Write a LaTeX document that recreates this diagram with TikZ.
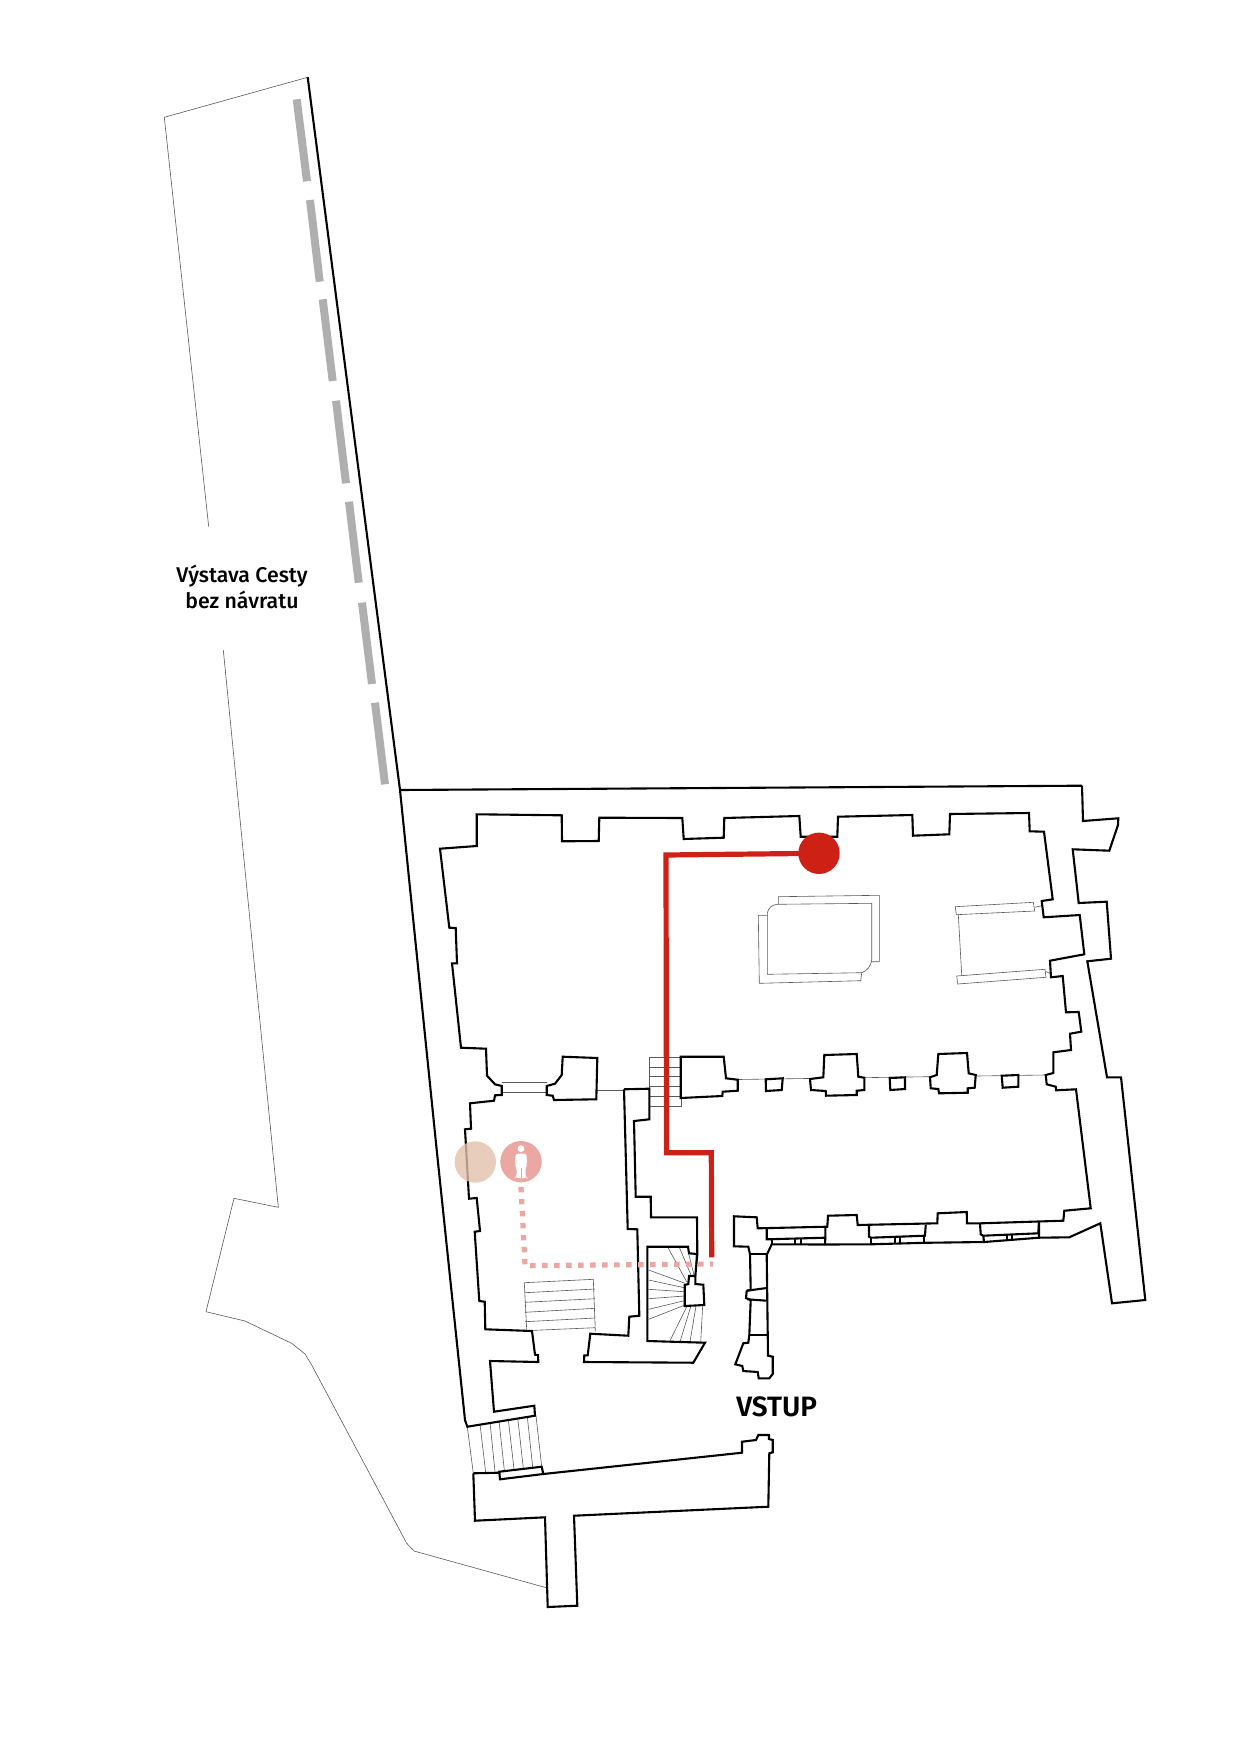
\documentclass[tikz,border=0pt]{standalone}
\usepackage{fontspec}
\setmainfont{Fira Sans}[BoldFont={Fira Sans Medium}]
\newfontfamily\entryfont{Fira Sans SemiBold}
\usepackage{xcolor}
\definecolor{routered}{HTML}{CE2116}
\definecolor{routepink}{HTML}{EBA8A3}
\definecolor{spottan}{HTML}{E2C0AB}
\definecolor{dashgray}{HTML}{AEAFAE}

\begin{document}
\begin{tikzpicture}[
  x=.5pt, y=-.5pt,
  line join=miter,
  wall/.style={draw=black, line width=1.05pt},
  thinline/.style={draw=black!65, line width=.3pt},
  pier/.style={wall, fill=white},
  spot/.style={circle, inner sep=0pt, minimum size=20.7pt},
  caption/.style={align=center, font=\fontsize{10.65}{13}\selectfont\bfseries}
]
\useasboundingbox (0,0) rectangle (1240,1754);

% --- Garden outline ---
\draw[thinline] (307.7,77.3) -- (164.3,117.3) -- (208.7,526.7);
\draw[thinline] (223.3,650) -- (278.3,1207.3) -- (234,1198.3) -- (206,1311.7) -- (245,1321)
  -- (291.7,1343.3) -- (305,1354) -- (311.7,1365) -- (406.7,1543.3) -- (414,1551) -- (547.3,1588);

% --- Gray dashes ---
\foreach \xa/\ya/\xb/\yb in {296.7/99.3/307/181.3, 310/200/319.7/281.7, 322.7/299.3/332.7/381,
    336/400.7/346/483.3, 349/501.7/358.7/582.7, 362/602.7/372/684, 375/702.7/385/784.3}
  \draw[dashgray, line width=4pt] (\xa,\ya) -- (\xb,\yb);

% --- Thin lines between piers ---
\draw[thinline] (596.3,1090.3) -- (624,1090.3);
\draw[thinline] (737.7,1079.5) -- (1045.7,1075);
\draw[thinline] (501.7,1082) -- (546.7,1082);
\draw[thinline] (502.3,1092) -- (546.7,1092);

% --- Stairs by the red line ---
\foreach \y in {1057.3,1067,1076.7,1086.7,1096.7,1106.7}
  \draw[thinline] (649.3,\y) -- (681.7,\y);
\draw[thinline] (649.3,1057.3) -- (649.3,1106.7) (681.7,1096) -- (681.7,1106.7);

% --- Left room stairs ---
\draw[thinline] (524.3,1282.7) -- (593.3,1279.3) -- (595.3,1331) (524.3,1282.7) -- (526.7,1330);
\foreach \ya/\yb in {1292.7/1289, 1302.3/1298.7, 1312.3/1308.3, 1321.7/1318, 1330.7/1327.7}
  \draw[thinline] (525,\ya) -- (595,\yb);

% --- Spiral stairs ---
\foreach \xa/\ya/\xb/\yb in {668.3/1248.3/686.7/1281.7, 679.3/1247.3/691.7/1276.7,
    688.7/1254/694/1275, 696/1255/695.3/1275, 648.7/1270/685/1283.3, 648.7/1280/684.3/1287.7,
    648.7/1289.3/684.3/1291.7, 648.7/1298.7/684.3/1296, 648.7/1309.3/684.3/1300.7,
    648.7/1319.3/685/1305, 670/1340.7/686.7/1306.7, 680/1341.7/690.7/1306.7,
    690/1341.7/696/1306, 700.7/1342.3/702.7/1305}
  \draw[thinline] (\xa,\ya) -- (\xb,\yb);

% --- Terrace steps ---
\foreach \xa/\ya/\xb/\yb in {467.3/1426.7/473.3/1473.3, 480/1424/485.7/1472.7, 490/1422.3/495/1471.7,
    499/1420.7/504.3/1470, 508.3/1419.3/514/1469, 517.7/1418/523.3/1468, 527.3/1416.7/532.7/1467.3,
    536/1415.7/541.7/1466.7}
  \draw[thinline] (\xa,\ya) -- (\xb,\yb);

% --- Altar and bench ---
\draw[thinline] (778.3,904) -- (778.3,896.7) -- (879.3,895.3) -- (879.3,961.7) -- (871,961.7);
\draw[thinline] (767.3,913.3) .. controls (768,908) and (772,905) .. (776.7,904.3) -- (871.7,903.3)
  -- (871.7,960) .. controls (871,966) and (867,971) .. (861.7,972.7) -- (767.3,974.3) -- cycle;
\draw[thinline] (767.3,915.3) -- (758.3,915.3) -- (759.3,983.3) -- (860.7,980.7) -- (861.7,972.7);
\draw[thinline] (955.3,906.7) -- (1033.3,902.3) -- (1034.7,911) -- (956.3,914.7) -- cycle;
\draw[thinline] (956.7,976) -- (1045,969.3) -- (1046,977.3) -- (957.7,984) -- cycle;
\draw[thinline] (958.3,914.7) -- (961.7,975);
\draw[thinline] (1034.7,907.3) -- (1041.7,905.7);
\draw[thinline] (1046,971.7) -- (1050,973.3);

% --- Outer wall and hall ---
\draw[wall] (1082,785.7) -- (400,790);
\draw[wall] (307.7,77.3) -- (400,790) -- (436.7,1150) -- (465,1420) -- (467.3,1426.7) -- (535,1415.7)
  -- (534.3,1405.7) -- (494,1411.7) -- (490,1361) -- (538.3,1362) -- (538,1355) -- (535,1354.7)
  -- (532,1331) -- (485.3,1329.3) -- (484.7,1301.7) -- (479.3,1301) -- (474.7,1231.7) -- (480,1231)
  -- (476.7,1198) -- (469,1198.7) -- (465,1129.3) -- (471,1128.7) -- (470,1103.3) -- (494,1100.7)
  -- (495,1095.3) -- (501.7,1095) -- (501.7,1086) -- (495,1084.3) -- (487,1075.7) -- (486,1048.7)
  -- (461,1047.7) -- (452,963.3) -- (457,963.3) -- (455.7,928) -- (449.3,927.7) -- (440,848.7)
  -- (476.7,846) -- (476.7,814.3) -- (561.7,815.3) -- (562,841.3) -- (598.7,841) -- (599.3,817.7)
  -- (682.3,818) -- (683.7,839) -- (723.7,837.7) -- (724.3,818) -- (799.3,816) -- (800.7,836.7)
  -- (837.3,836.7) -- (838,816.7) -- (912.3,815) -- (913,835.7) -- (949.3,834.3) -- (950,814)
  -- (1029,813) -- (1029.7,831.3) -- (1044,831.7) -- (1052.7,899.3) -- (1041.7,901) -- (1043.7,917.3)
  -- (1079.7,915) -- (1084.3,954.3) -- (1050,960.7) -- (1051,977.3) -- (1062.7,976) -- (1066,1012.3)
  -- (1078.7,1012) -- (1081.3,1031.7) -- (1070,1033.7) -- (1071,1050) -- (1053.3,1052.3) -- (1053.3,1073)
  -- (1045.7,1075) -- (1046.7,1084.3) -- (1055.7,1086.7) -- (1056,1090.3) -- (1076,1089.3)
  -- (1090.7,1208.3) -- (1064.3,1210.7) -- (1063.3,1220.7) -- (981,1223.3) -- (967,1223.3)
  -- (966.7,1212) -- (937.7,1213.3) -- (937.3,1223.3) -- (857.7,1225) -- (856.7,1215) -- (828,1215.7)
  -- (827.3,1226.7) -- (757.7,1228.3) -- (756.7,1217.3) -- (734,1216.3) -- (734,1246.3) -- (748.3,1246.7)
  -- (750,1254.3) -- (750.7,1290) (750.7,1300) -- (749.3,1335) -- (748.3,1342.7) -- (743.3,1343.3)
  -- (735.3,1364.3) -- (742.3,1366) -- (743.3,1371) -- (757.7,1372) -- (758.7,1378.3) -- (769.3,1378.3)
  -- (772.7,1374) -- (772.7,1356.7) -- (768,1355.7) -- (766.7,1255) -- (771.7,1244.3) -- (825,1244.5)
  -- (871,1244.3) -- (924,1242.8) -- (984,1242) -- (1039,1237.7) -- (1069.3,1237.3) -- (1100.3,1223.3)
  -- (1112,1303.3) -- (1145.3,1300) -- (1121,1077.3) -- (1107,1077.3) -- (1087.3,961.3) -- (1111,958.7)
  -- (1106.7,901.7) -- (1078.7,903) -- (1072.7,849.3) -- (1109.3,850.7) -- (1118,825) -- (1118.3,818.3)
  -- (1083,821) -- (1082,785.7);

% --- South wall bays ---
\draw[wall] (766.7,1228.3) -- (766.7,1239.3) -- (825.3,1237.7) -- (825.3,1227);
\draw[wall] (771.7,1239.5) -- (771.7,1244.3);
\draw[wall] (825.3,1237.7) -- (825,1244.5);
\foreach \x in {795,801}
  \draw[wall, line width=.7pt] (\x,1239) -- (\x,1244);
\draw[wall] (869,1225) -- (869,1236.7) -- (871,1237.7) -- (925,1235.7) -- (925.7,1225);
\draw[wall] (871,1237.7) -- (871,1244.3) (924,1235.7) -- (924,1242.8);
\foreach \x in {895,900}
  \draw[wall, line width=.7pt] (\x,1237) -- (\x,1243);
\draw[wall] (980,1223.3) -- (980.7,1234.3) -- (983.3,1235.7) -- (1038.3,1233.3) -- (1039,1222);
\draw[wall] (983.3,1235.7) -- (984,1242) (1039,1222) -- (1039,1237.7);
\foreach \x in {1007,1012}
  \draw[wall, line width=.7pt] (\x,1234.7) -- (\x,1240);

% --- Entrance passage ---
\draw[wall] (750,1254.3) -- (766.7,1254.3);
\draw[wall] (746.7,1290.7) -- (766.7,1288) (747.3,1299.3) -- (766.7,1300.7);
\draw[wall] (746.7,1290.7) -- (746,1298) -- (750.7,1300) (746.7,1290.7) -- (750.7,1290);
\draw[wall] (749.3,1335) -- (767.3,1335);

% --- Piers ---
\draw[pier] (546.7,1086) -- (555,1083.7) -- (561.7,1075) -- (562.7,1056.7) -- (597.3,1058) -- (596.3,1099.3)
  -- (554,1100) -- (552.7,1095.7) -- (546.7,1095) -- cycle;
\draw[pier] (680.7,1056.7) -- (723.7,1056.7) -- (726,1078.3) -- (737.7,1079.7) -- (737.7,1090.7)
  -- (722.7,1091.7) -- (722.3,1096) -- (680.7,1098) -- cycle;
\draw[pier] (824.3,1055) -- (856.7,1054) -- (858.3,1076.7) -- (864.3,1077.7) -- (864.3,1090) -- (856.7,1090.7)
  -- (856.7,1095) -- (826,1095.7) -- (825.7,1091) -- (811,1090) -- (810,1079) -- (823.3,1077.3) -- cycle;
\draw[pier] (938.3,1054) -- (967,1053) -- (968.7,1073.3) -- (975.7,1075) -- (974.7,1087.7) -- (967.7,1088.3)
  -- (967.7,1092.7) -- (939,1093.3) -- (938.3,1089) -- (930.7,1088.3) -- (930,1077.3) -- (936.7,1075) -- cycle;
\draw[pier] (765.7,1079.3) -- (782.7,1078.3) -- (781.7,1090) -- (766,1091) -- cycle;
\draw[pier] (889.7,1078) -- (905,1077.3) -- (905,1089) -- (890.3,1090) -- cycle;
\draw[pier] (1001.7,1075.7) -- (1018.3,1075) -- (1018.3,1086.7) -- (1002.7,1087.7) -- cycle;

% --- Corridor and spiral stair block ---
\draw[wall] (624,1089.3) -- (649.3,1088.7) -- (649.3,1119.3) -- (634,1121) -- (635.7,1196.7) -- (650.7,1196.7)
  -- (651,1217.3) -- (697,1217.3) -- (697.3,1254) -- (695.3,1276);
\draw[wall] (624,1089.3) -- (627.7,1229) -- (637.3,1229.3) -- (639.3,1315.7) -- (629.3,1316.7)
  -- (628.3,1335.7) -- (590.3,1333.7) -- (587.7,1355.3) -- (584.3,1355.3) -- (584,1362) -- (693.3,1362.7)
  -- (705,1342.7) -- (647.3,1341) -- (647.3,1246.7) -- (688,1246.7) -- (689,1253.3) -- (697.3,1254);
\draw[pier] (695.3,1276) -- (689,1276) -- (688.3,1284) -- (684.7,1285) -- (684.7,1306) -- (704.3,1305)
  -- (703.3,1284.7) -- (695.3,1284) -- cycle;

% --- South block ---
\draw[wall] (473.3,1473.3) -- (475,1520.7) -- (545,1517.3) -- (547.7,1607) -- (577.3,1605.7) -- (574,1515.7)
  -- (768.3,1506.7) -- (769.3,1453.3) -- (772.7,1452.3) -- (772.7,1440) -- (769,1439) -- (769,1435)
  -- (758.3,1435) -- (756,1440) -- (742,1441.7) -- (742,1452.7) -- (543.3,1474) -- (541.7,1466.7)
  -- (499.3,1471.7) -- (500,1479.3) -- (543.3,1474);
\draw[wall] (473.3,1473.3) -- (499.3,1472.7);

% --- Route ---
\node[spot, fill=routered] (FINISH) at (819,853.3) {};
\coordinate (ROUTEIN) at (711.7,1257.3);
\draw[routered, line width=2.6pt] (FINISH.center) -- (666,855) -- (666.5,1152.7) -- (711.3,1152.7) -- (ROUTEIN);

% --- Spots ---
\node[spot, fill=spottan, fill opacity=.8] (SPOTA) at (475.3,1162) {};
\node[spot, fill=routepink] (SPOTB) at (521,1161.7) {};
\fill[white] (521,1148.7) circle (3.4);
\fill[white, rounded corners=1.5pt] (515,1165) -- (515.5,1153.5) -- (526.5,1153.5) -- (527,1165) -- (525.5,1167)
  -- (525.5,1177) -- (527,1178) -- (515,1178) -- (516.5,1177) -- (516.5,1167) -- cycle;
\draw[routepink, line width=.3pt] (521,1168) -- (521,1178);

\coordinate (DOTBEND) at (525,1265.7);
\coordinate (DOTEND) at (713,1264);
\draw[routepink, line width=2.6pt, dash pattern=on 2.7pt off 3.3pt] (521,1187) -- (DOTBEND) -- (DOTEND);

% --- Labels ---
\node[caption] (EXPO) at (242,587) {Výstava Cesty\\bez návratu};
\node[anchor=base west, font=\fontsize{14}{16}\selectfont\entryfont, inner sep=0pt] (VSTUP) at (736,1416) {VSTUP};

\end{tikzpicture}
\end{document}
